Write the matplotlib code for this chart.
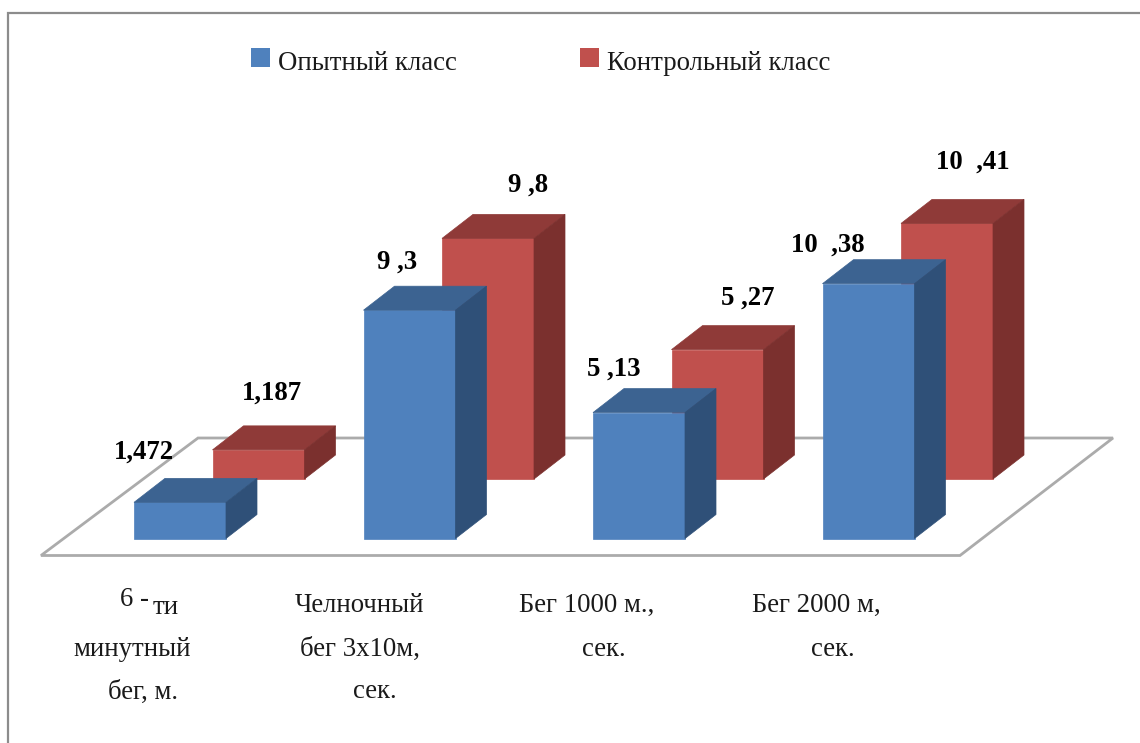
import matplotlib
matplotlib.use("Agg")
import matplotlib.pyplot as plt
from matplotlib.patches import Polygon, Rectangle

plt.rcParams['font.family'] = ['Liberation Serif', 'DejaVu Serif']

series_names = ["Опытный класс", "Контрольный класс"]
experimental = [1.472, 9.3, 5.13, 10.38]
control = [1.187, 9.8, 5.27, 10.41]
experimental_labels = ["1,472", "9 ,3", "5 ,13", "10  ,38"]
control_labels = ["1,187", "9 ,8", "5 ,27", "10  ,41"]
category_lines = [
    [("6 -", 135, 600), ("ти", 166, 607), ("минутный", 132, 649), ("бег, м.", 143, 692)],
    [("Челночный", 359, 605), ("бег 3х10м,", 360, 649), ("сек.", 375, 692)],
    [("Бег 1000 м.,", 587, 605), ("сек.", 604, 649)],
    [("Бег 2000 м,", 816, 605), ("сек.", 833, 649)],
]

W, H = 1140, 743
fig = plt.figure(figsize=(W / 100, H / 100), dpi=100, facecolor="white")
ax = fig.add_axes([0, 0, 1, 1])
ax.set_xlim(0, W)
ax.set_ylim(H, 0)
ax.axis("off")

# chart frame
ax.plot([8, 8, W], [H, 13, 13], color="#8C8C8C", lw=1.6, solid_joinstyle="miter", zorder=1)

# floor
floor = Polygon([(41, 555.5), (960, 555.5), (1113, 438), (198, 438)], closed=True,
                facecolor="white", edgecolor="#ABABAB", lw=2, zorder=2)
ax.add_patch(floor)

SCALE = 24.55
BAR_W = 92
DX, DY = 31, -24
BLUE = ("#4F81BD", "#3C6391", "#2F5078")
RED = ("#C0504D", "#8F3A38", "#7B302E")


def bar3d(x, base, value, cols, z):
    top = base - value * SCALE
    ax.add_patch(Polygon([(x, base), (x + BAR_W, base), (x + BAR_W, top), (x, top)],
                         closed=True, fc=cols[0], ec=cols[0], lw=0.5, zorder=z))
    ax.add_patch(Polygon([(x, top), (x + BAR_W, top), (x + BAR_W + DX, top + DY), (x + DX, top + DY)],
                         closed=True, fc=cols[1], ec=cols[1], lw=0.5, zorder=z))
    ax.add_patch(Polygon([(x + BAR_W, base), (x + BAR_W + DX, base + DY),
                          (x + BAR_W + DX, top + DY), (x + BAR_W, top)],
                         closed=True, fc=cols[2], ec=cols[2], lw=0.5, zorder=z))


blue_x = [134, 363.5, 593, 822.5]
red_x = [212.5, 442, 671.5, 901]
for x, v in zip(red_x, control):
    bar3d(x, 479, v, RED, 3)
for x, v in zip(blue_x, experimental):
    bar3d(x, 538.5, v, BLUE, 4)

# data labels
blue_lab_pos = [(144, 452), (397, 262), (614, 369), (828, 245)]
red_lab_pos = [(272, 393), (528, 185), (748, 298), (973, 162)]
for s, (x, y) in zip(experimental_labels + control_labels, blue_lab_pos + red_lab_pos):
    ax.text(x, y, s, ha="center", va="center", fontsize=19.3, fontweight="bold", color="black", zorder=6)

# category labels
for lines in category_lines:
    for s, x, y in lines:
        ax.text(x, y, s, ha="center", va="center", fontsize=19.3, color="#1a1a1a", zorder=6)

# legend
ax.add_patch(Rectangle((251, 48), 19, 19, fc=BLUE[0], ec="none", zorder=5))
ax.add_patch(Rectangle((580, 48), 19, 19, fc=RED[0], ec="none", zorder=5))
ax.text(278, 63, series_names[0], ha="left", va="center", fontsize=19.3, color="#1a1a1a")
ax.text(607, 63, series_names[1], ha="left", va="center", fontsize=19.3, color="#1a1a1a")

fig.savefig("out.png", dpi=100, facecolor="white")
